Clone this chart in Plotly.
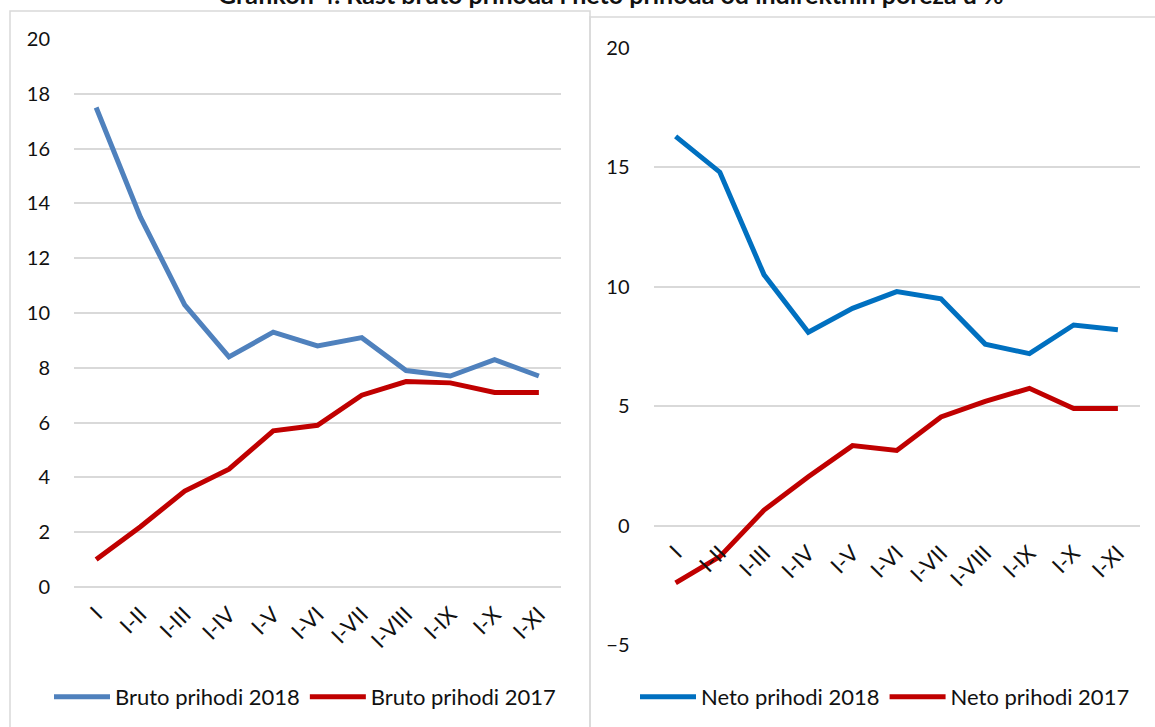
import plotly.graph_objects as go

categories = ["I", "I-II", "I-III", "I-IV", "I-V", "I-VI", "I-VII", "I-VIII", "I-IX", "I-X", "I-XI"]
bruto_2018 = [17.5, 13.5, 10.3, 8.4, 9.3, 8.8, 9.1, 7.9, 7.7, 8.3, 7.7]
bruto_2017 = [1.0, 2.2, 3.5, 4.3, 5.7, 5.9, 7.0, 7.5, 7.45, 7.1, 7.1]
neto_2018 = [16.3, 14.8, 10.5, 8.1, 9.1, 9.8, 9.5, 7.6, 7.2, 8.4, 8.2]
neto_2017 = [-2.4, -1.3, 0.65, 2.05, 3.35, 3.15, 4.55, 5.2, 5.75, 4.9, 4.9]
left_yticks = list(range(0, 21, 2))
right_yticks = list(range(-5, 21, 5))

W, H = 1155, 727
FONT = "Lato, Calibri, Carlito, sans-serif"
GRID = "#d9d9d9"
TXT = "#111111"

def px_x(p):
    return p / W

def px_y(p):
    return (H - p) / H

left_xdom = [px_x(74), px_x(561)]
left_ydom = [px_y(587), px_y(39)]
right_xdom = [px_x(653.5), px_x(1140)]
right_ydom = [px_y(645), px_y(48)]
right_range = [-5, 20]
zero_pos = right_ydom[0] + (0 - right_range[0]) / (right_range[1] - right_range[0]) * (right_ydom[1] - right_ydom[0])

fig = go.Figure()
fig.add_trace(go.Scatter(x=categories, y=bruto_2018, name="Bruto prihodi 2018", mode="lines",
                         line=dict(color="#4F81BD", width=5), xaxis="x", yaxis="y", legend="legend"))
fig.add_trace(go.Scatter(x=categories, y=bruto_2017, name="Bruto prihodi 2017", mode="lines",
                         line=dict(color="#C00000", width=5), xaxis="x", yaxis="y", legend="legend"))
fig.add_trace(go.Scatter(x=categories, y=neto_2018, name="Neto prihodi 2018", mode="lines",
                         line=dict(color="#0070C0", width=5), xaxis="x2", yaxis="y2", legend="legend2"))
fig.add_trace(go.Scatter(x=categories, y=neto_2017, name="Neto prihodi 2017", mode="lines",
                         line=dict(color="#C00000", width=5), xaxis="x2", yaxis="y2", legend="legend2"))

xcommon = dict(type="category", range=[-0.5, 10.5], showgrid=False, showline=False, zeroline=False,
               tickangle=-45, tickfont=dict(family=FONT, size=22, color=TXT), ticks="outside", ticklen=5,
               tickcolor="rgba(0,0,0,0)", fixedrange=True, automargin=False)
ycommon = dict(showgrid=True, gridcolor=GRID, gridwidth=1.5, showline=False, zeroline=True,
               zerolinecolor=GRID, zerolinewidth=1.5, ticks="outside", ticklen=19,
               tickcolor="rgba(0,0,0,0)", tickfont=dict(family=FONT, size=20, color=TXT),
               fixedrange=True, automargin=False)

legend_common = dict(orientation="h", y=px_y(697), yanchor="middle", itemwidth=56,
                     font=dict(family=FONT, size=22, color=TXT), bgcolor="rgba(0,0,0,0)")

fig.update_layout(
    width=W, height=H, autosize=False,
    margin=dict(l=0, r=0, t=0, b=0, autoexpand=False),
    paper_bgcolor="white", plot_bgcolor="white",
    font=dict(family=FONT, size=20, color=TXT),
    xaxis=dict(domain=left_xdom, anchor="y", **xcommon),
    yaxis=dict(domain=left_ydom, anchor="x", range=[0, 20], tickvals=left_yticks, **ycommon),
    xaxis2=dict(domain=right_xdom, anchor="free", position=zero_pos, **xcommon),
    yaxis2=dict(domain=right_ydom, anchor="x2", range=right_range, tickvals=right_yticks, **ycommon),
    legend=dict(x=px_x(305), xanchor="center", **legend_common),
    legend2=dict(x=px_x(885), xanchor="center", **legend_common),
    shapes=[
        dict(type="rect", xref="paper", yref="paper", x0=px_x(10), x1=px_x(590), y0=-0.02, y1=px_y(11),
             line=dict(color=GRID, width=1.5), layer="below"),
        dict(type="rect", xref="paper", yref="paper", x0=px_x(590), x1=1.02, y0=-0.02, y1=px_y(17),
             line=dict(color=GRID, width=1.5), layer="below"),
    ],
    annotations=[
        dict(text="<b>Grafikon 4. Rast bruto prihoda i neto prihoda od indirektnih poreza u %</b>",
             xref="paper", yref="paper", x=px_x(611), y=px_y(11), xanchor="center", yanchor="bottom",
             showarrow=False, font=dict(family=FONT, size=25, color=TXT)),
    ],
    showlegend=True,
)

fig.write_html("out.html", config={"displayModeBar": False},
               post_script="document.body.style.margin='0';document.body.style.overflow='hidden';")
